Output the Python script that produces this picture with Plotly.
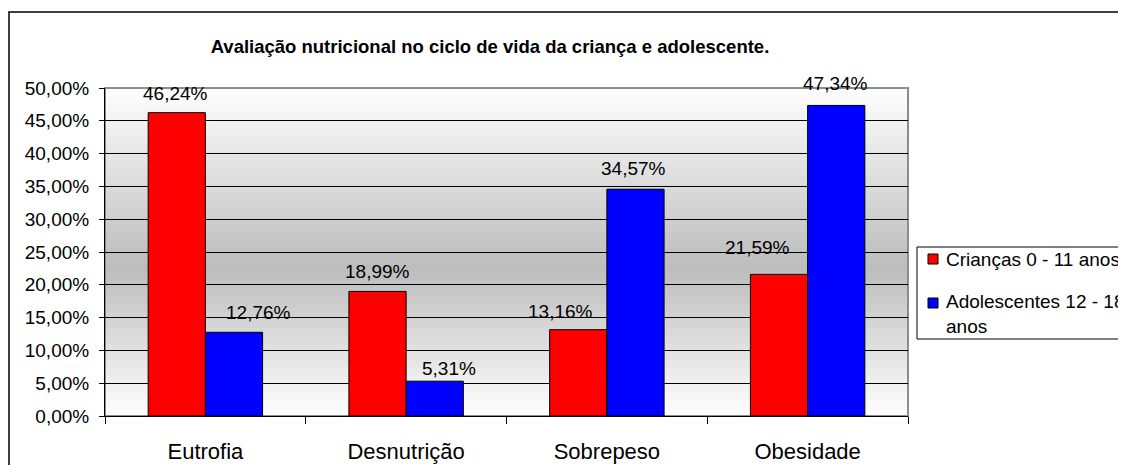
import plotly.graph_objects as go

# dados
categorias = ["Eutrofia", "Desnutrição", "Sobrepeso", "Obesidade"]
criancas = [0.4624, 0.1899, 0.1316, 0.2159]
adolescentes = [0.1276, 0.0531, 0.3457, 0.4734]
nome_criancas = "Crianças 0 - 11 anos"
nome_adolesc = "Adolescentes 12 - 18<br>anos"
titulo = "Avaliação nutricional no ciclo de vida da criança e adolescente."
y_ticks = [i * 0.05 for i in range(11)]

# deslocamento (px) dos rótulos em relação ao topo da barra, como ajustado no Excel
desloc_criancas = [(-1, 19), (0, 20), (-18, 18), (-22, 27)]
desloc_adolesc = [(25, 20), (14, 13), (-2, 21), (-1, 22)]

FONT = "Liberation Sans, Arial, sans-serif"
COR_CRIANCAS = "#ff0000"
COR_ADOLESC = "#0000ff"
BARGAP = 0.43

# área de plotagem em pixels da figura (a página tem 8px de margem no body)
L, R, T, B = 97, 900, 80, 408
W, H = 1126, 465


def px(x):
    """pixel (tela) -> coordenada paper x"""
    return (x - 8 - L) / (R - L)


def py(y):
    """pixel (tela) -> coordenada paper y"""
    return (B - (y - 8)) / (B - T)


def pct(v):
    return f"{v * 100:.2f}".replace(".", ",") + "%"


fig = go.Figure()
for nome, vals, cor in [
    (nome_criancas, criancas, COR_CRIANCAS),
    (nome_adolesc, adolescentes, COR_ADOLESC),
]:
    fig.add_trace(
        go.Bar(
            x=categorias,
            y=vals,
            name=nome,
            marker=dict(color=cor, line=dict(color="black", width=1)),
            showlegend=False,
        )
    )

# rótulos de dados acima das barras
annotations = []
meia_barra = (R - L) / len(categorias) * (1 - BARGAP) / 4
for vals, lado, desl in [
    (criancas, -meia_barra, desloc_criancas),
    (adolescentes, meia_barra, desloc_adolesc),
]:
    for c, v, (dx, dy) in zip(categorias, vals, desl):
        annotations.append(
            dict(
                x=c,
                y=v,
                xref="x",
                yref="y",
                text=pct(v),
                showarrow=False,
                xshift=lado + dx,
                yshift=dy,
                yanchor="middle",
                xanchor="center",
                font=dict(size=19, family=FONT, color="black"),
            )
        )

# fundo em degradê (branco -> cinza -> branco), como no Excel
shapes = []
n = 82
for i in range(n):
    f = (i + 0.5) / n
    if f < 0.45:
        v = 255 - (255 - 188) * f / 0.45
    else:
        v = 188 + (255 - 188) * (f - 0.45) / 0.55
    v = int(round(v))
    shapes.append(
        dict(
            type="rect",
            xref="x domain",
            yref="y domain",
            x0=0,
            x1=1,
            y0=i / n,
            y1=(i + 1) / n + 0.002,
            line=dict(width=0),
            fillcolor=f"rgb({v},{v},{v})",
            layer="below",
        )
    )
# borda da área de plotagem
shapes.append(
    dict(
        type="rect",
        xref="x domain",
        yref="y domain",
        x0=0,
        x1=1,
        y0=0,
        y1=1,
        line=dict(color="#8c8c8c", width=2),
        layer="below",
    )
)
# borda externa do gráfico
shapes.append(
    dict(
        type="rect",
        xref="paper",
        yref="paper",
        x0=px(9),
        x1=px(1300),
        y0=py(600),
        y1=py(12),
        line=dict(color="black", width=1.5),
        layer="above",
    )
)

# legenda (desenhada à mão, como no Excel)
shapes.append(
    dict(
        type="rect",
        xref="paper",
        yref="paper",
        x0=px(917),
        x1=px(1300),
        y0=py(339),
        y1=py(247),
        line=dict(color="black", width=1),
        fillcolor="white",
        layer="above",
    )
)
for nome, cor, yc, ytxt in [
    (nome_criancas, COR_CRIANCAS, 259, 259),
    (nome_adolesc, COR_ADOLESC, 303, 314),
]:
    shapes.append(
        dict(
            type="rect",
            xref="paper",
            yref="paper",
            x0=px(928),
            x1=px(938),
            y0=py(yc + 5),
            y1=py(yc - 5),
            line=dict(color="black", width=1),
            fillcolor=cor,
            layer="above",
        )
    )
    annotations.append(
        dict(
            text=nome,
            xref="paper",
            yref="paper",
            x=px(944),
            y=py(ytxt),
            xanchor="left",
            yanchor="middle",
            align="left",
            showarrow=False,
            font=dict(size=19, family=FONT, color="black"),
        )
    )

fig.update_layout(
    width=W,
    height=H,
    margin=dict(l=L, r=W - R, t=T, b=H - B, autoexpand=False),
    paper_bgcolor="white",
    plot_bgcolor="white",
    separators=",.",
    font=dict(family=FONT, color="black", size=19),
    barmode="group",
    bargap=BARGAP,
    bargroupgap=0,
    shapes=shapes,
    annotations=annotations,
    title=dict(
        text=f"<b>{titulo}</b>",
        x=482 / W,
        xanchor="center",
        y=1 - 39 / H,
        yanchor="middle",
        xref="container",
        yref="container",
        font=dict(size=18.5, family=FONT, color="black"),
    ),
    showlegend=False,
)
fig.update_yaxes(
    range=[0, 0.5],
    tickvals=y_ticks,
    tickformat=".2%",
    ticks="outside",
    ticklen=5,
    tickcolor="black",
    showline=True,
    linecolor="black",
    linewidth=1,
    showgrid=True,
    gridcolor="black",
    gridwidth=1,
    zeroline=False,
    tickfont=dict(size=19, family=FONT, color="black"),
    ticklabelstandoff=6,
)
fig.update_xaxes(
    type="category",
    tickson="boundaries",
    ticks="outside",
    ticklen=7,
    tickcolor="black",
    showline=True,
    linecolor="black",
    linewidth=1,
    showgrid=False,
    tickfont=dict(size=22, family=FONT, color="black"),
    ticklabelstandoff=16,
)

fig.write_html("out.html")
